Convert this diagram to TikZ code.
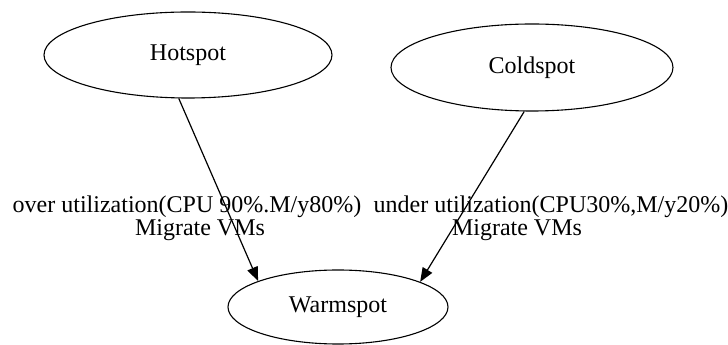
\documentclass[tikz,border=0pt]{standalone}
\usepackage{fontspec}
\setmainfont{Liberation Serif}
\usetikzlibrary{shapes.geometric,arrows.meta}
\begin{document}
\begin{tikzpicture}[x=1pt,y=1pt,
  spot/.style={draw=black,line width=1.1pt,ellipse,inner sep=0pt,
    font=\fontsize{24}{28}\selectfont},
  link/.style={draw=black,line width=1.2pt,-{Triangle[length=14pt,width=11pt]}},
  lbl/.style={anchor=base,inner sep=0pt,font=\fontsize{24}{28}\selectfont}]
\useasboundingbox (0,0) rectangle (728,345);
% states
\node[spot,minimum width=288pt,minimum height=86pt] (hot) at (188,290) {Hotspot};
\node[spot,minimum width=282pt,minimum height=87pt] (cold) at (532,277.5) {Coldspot};
\node[spot,minimum width=220pt,minimum height=74pt] (warm) at (338,38) {Warmspot};
% migrations
\draw[link] (hot.258) -- (warm.162);
\draw[link] (cold.260) -- (warm.17);
% edge labels
\node[lbl] (overA) at (187,132) {over utilization(CPU 90\%.M/y80\%)};
\node[lbl] (overB) at (200,109) {Migrate VMs};
\node[lbl] (underA) at (551,132) {under utilization(CPU30\%,M/y20\%)};
\node[lbl] (underB) at (517,109) {Migrate VMs};
\end{tikzpicture}
\end{document}
